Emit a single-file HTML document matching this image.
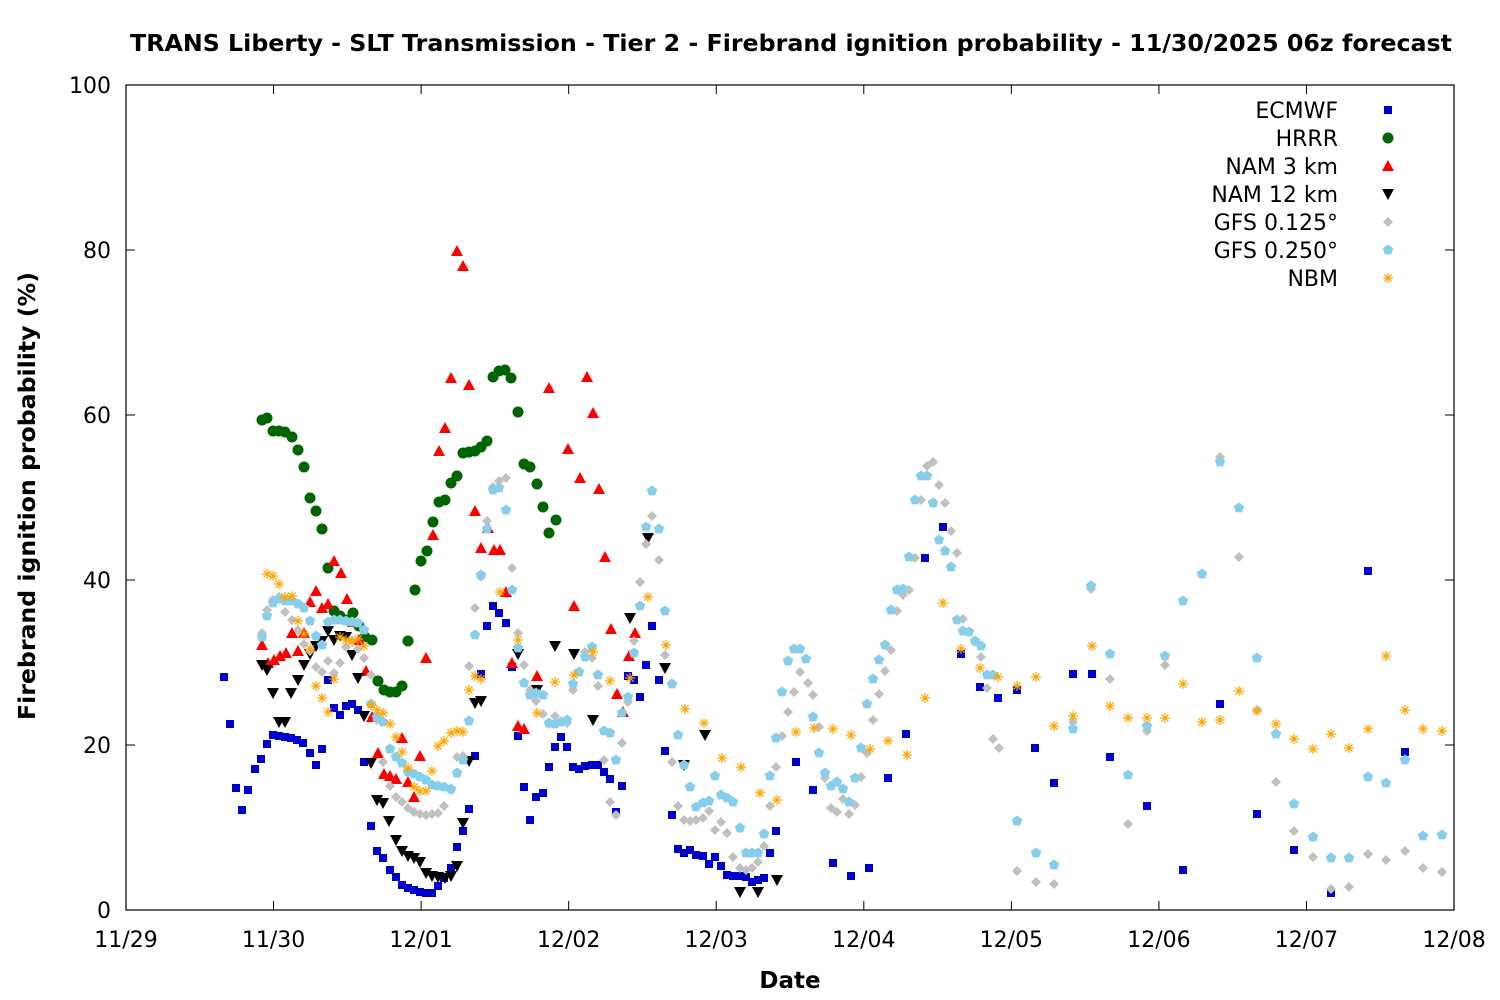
<!DOCTYPE html>
<html><head><meta charset="utf-8"><style>
body{margin:0;background:#fff}
svg{display:block;font-family:"DejaVu Sans","Liberation Sans",sans-serif}
</style></head><body>
<svg id="c" width="1500" height="1000" viewBox="0 0 1500 1000" xmlns="http://www.w3.org/2000/svg">
<rect width="1500" height="1000" fill="#fff"/>
<text x="130" y="51" font-size="23" font-weight="bold" textLength="1322" lengthAdjust="spacingAndGlyphs">TRANS Liberty - SLT Transmission - Tier 2 - Firebrand ignition probability - 11/30/2025 06z forecast</text>
<text x="790" y="988" text-anchor="middle" font-size="23" font-weight="bold">Date</text>
<text transform="translate(35,720) rotate(-90)" font-size="23" font-weight="bold" textLength="448" lengthAdjust="spacingAndGlyphs">Firebrand ignition probability (%)</text>
<g id="ax"></g>
<g id="pts"></g>
<rect x="126" y="85" width="1328" height="825" fill="none" stroke="#000" stroke-width="1.2"/>
</svg>
<script>
const NS="http://www.w3.org/2000/svg";
const ax=document.getElementById('ax'),P=document.getElementById('pts');
function el(t,a,p,txt){const e=document.createElementNS(NS,t);for(const k in a)e.setAttribute(k,a[k]);if(txt!==undefined)e.textContent=txt;(p||P).appendChild(e);return e;}
for(let i=0;i<=5;i++){const y=910-i*165;
 el('line',{x1:126,y1:y,x2:135,y2:y,stroke:'#000'},ax);el('line',{x1:1445,y1:y,x2:1454,y2:y,stroke:'#000'},ax);
 el('text',{x:111,y:y+8,'text-anchor':'end','font-size':22},ax,String(i*20));}
const dl=['11/29','11/30','12/01','12/02','12/03','12/04','12/05','12/06','12/07','12/08'];
for(let i=0;i<=9;i++){const x=126+i*147.56;
 el('line',{x1:x,y1:910,x2:x,y2:901,stroke:'#000'},ax);el('line',{x1:x,y1:85,x2:x,y2:94,stroke:'#000'},ax);
 el('text',{x:x,y:947,'text-anchor':'middle','font-size':22},ax,dl[i]);}
function mk(t,x,y,c){
 if(t=='sq')el('rect',{x:x-4,y:y-4,width:8,height:8,fill:c});
 else if(t=='ci')el('circle',{cx:x,cy:y,r:5.5,fill:c});
 else if(t=='tu')el('polygon',{points:`${x},${y-6} ${x-6},${y+5} ${x+6},${y+5}`,fill:c});
 else if(t=='td')el('polygon',{points:`${x},${y+6} ${x-6},${y-5} ${x+6},${y-5}`,fill:c});
 else if(t=='di')el('polygon',{points:`${x},${y-5} ${x+5},${y} ${x},${y+5} ${x-5},${y}`,fill:c});
 else if(t=='pe'){let p=[];for(let k=0;k<5;k++){const a=-Math.PI/2+k*2*Math.PI/5;p.push((x+5.5*Math.cos(a)).toFixed(1)+','+(y+5.5*Math.sin(a)).toFixed(1));}el('polygon',{points:p.join(' '),fill:c});}
 else if(t=='as'){for(let k=0;k<4;k++){const a=k*Math.PI/4;el('line',{x1:x-5*Math.cos(a),y1:y-5*Math.sin(a),x2:x+5*Math.cos(a),y2:y+5*Math.sin(a),stroke:c,'stroke-width':1.2});}}
}
const S=[
['ECMWF','sq','#0000cc',[224,677,230,724,236,788,242,810,248,790,255,769,261,759,267,744,273,735,279,736,285,737,291,738,297,740,303,743,310,753,316,765,322,749,328,680,334,708,340,715,346,706,352,704,358,710,364,762,371,826,377,851,383,858,390,870,396,877,402,885,408,888,414,890,420,892,426,893,432,893,438,886,444,878,451,868,457,847,463,831,469,809,475,756,481,674,487,626,493,606,499,613,506,623,512,667,518,736,524,787,530,820,536,797,543,793,549,767,555,747,561,737,567,747,573,767,579,769,585,766,592,765,598,765,604,772,610,779,616,812,622,786,628,676,634,680,640,697,646,665,652,626,659,680,665,751,672,815,678,849,684,853,690,850,696,855,703,856,709,864,715,857,721,866,727,875,733,876,740,876,746,877,752,882,758,880,764,878,770,853,776,831,796,762,813,790,833,863,851,876,869,868,888,778,906,734,925,558,943,527,961,654,980,687,998,698,1017,690,1035,748,1054,783,1073,674,1092,674,1110,757,1147,806,1183,870,1220,704,1257,814,1294,850,1331,893,1368,571,1405,752]],
['HRRR','ci','#006400',[262,420,267,418,273,431,279,431,285,432,292,437,298,450,304,467,310,498,316,511,322,529,328,568,334,611,340,616,346,620,353,613,359,626,365,637,372,640,378,681,384,690,390,692,396,692,402,686,408,641,415,590,421,561,427,551,433,522,439,502,445,500,451,483,457,476,463,453,469,452,475,451,481,447,487,441,493,377,499,371,505,370,511,378,518,412,524,464,530,467,537,484,543,507,549,533,556,520]],
['NAM 3 km','tu','#ff0000',[262,645,268,663,274,660,280,656,286,653,292,633,298,651,304,633,310,602,316,591,322,608,328,604,334,561,341,573,347,599,353,622,359,640,366,671,372,717,378,753,384,774,390,776,396,779,402,738,408,782,414,797,420,756,426,658,433,535,439,451,445,428,451,378,457,251,463,266,469,385,475,511,481,548,488,528,494,550,500,550,506,592,512,663,518,726,524,729,537,676,549,388,568,449,574,606,580,478,587,377,593,413,599,489,605,557,611,629,617,694,623,712,629,656,635,633]],
['NAM 12 km','td','#000000',[262,665,267,670,273,693,279,722,285,722,291,693,298,680,304,665,310,654,316,646,322,641,328,631,334,640,340,636,346,637,352,655,358,678,364,716,371,763,377,800,383,803,389,821,396,840,402,851,408,856,414,858,420,862,426,873,432,876,438,877,445,878,451,876,457,866,463,823,469,761,475,703,481,701,518,654,537,690,555,646,574,654,593,720,630,618,648,538,665,668,684,765,705,735,740,892,758,892,777,880]],
['GFS 0.125°','di','#c0c0c0',[262,633,267,610,273,600,279,597,285,612,292,620,298,630,304,644,310,651,316,667,322,672,328,661,334,673,340,663,346,647,352,640,358,649,364,658,371,675,377,720,383,762,390,786,396,797,402,802,408,808,414,812,420,814,426,815,432,814,438,813,444,806,451,790,457,757,463,756,469,666,475,608,481,577,487,521,493,487,499,481,506,478,512,568,518,633,524,665,530,690,536,701,543,714,549,724,555,716,561,722,567,723,573,690,579,672,585,652,592,658,598,686,604,760,610,802,616,815,622,743,628,702,634,641,640,582,646,544,652,516,659,560,665,655,672,762,678,806,684,820,690,821,696,820,703,818,709,811,715,830,721,822,727,833,733,857,740,868,746,870,752,868,758,862,764,846,770,806,776,767,782,736,788,712,794,692,800,672,808,683,813,695,819,727,825,778,831,808,837,812,843,799,849,814,855,805,861,777,867,753,873,720,879,694,885,671,891,650,897,611,903,595,909,590,915,558,921,500,927,466,933,462,939,485,945,503,951,531,957,553,963,619,969,632,975,642,981,657,987,688,993,739,999,748,1017,871,1036,882,1054,884,1073,722,1091,589,1110,679,1128,824,1147,731,1165,665,1183,601,1202,574,1220,457,1239,557,1257,710,1276,782,1294,831,1313,857,1331,889,1349,887,1368,854,1386,860,1405,851,1423,868,1442,872]],
['GFS 0.250°','pe','#87ceeb',[262,637,267,616,273,603,279,599,285,601,292,601,298,604,304,608,310,621,316,636,322,645,328,622,334,620,340,620,346,621,352,622,358,623,364,630,371,704,377,717,383,722,390,749,396,757,402,763,408,772,414,774,420,777,426,780,432,785,438,786,444,787,451,789,457,773,463,760,469,721,475,635,481,575,487,529,493,490,499,488,506,510,512,590,518,648,524,683,530,695,536,693,543,695,549,723,555,724,561,722,567,720,573,684,579,672,585,657,592,647,598,675,604,731,610,733,616,760,622,713,628,697,634,653,640,606,646,527,652,491,659,529,665,611,672,684,678,735,684,765,690,787,696,807,703,803,709,801,715,776,721,795,727,798,733,802,740,828,746,853,752,853,758,853,764,834,770,776,776,738,782,692,788,661,794,649,800,649,806,659,813,717,819,753,825,773,831,786,837,782,843,789,849,802,855,778,861,748,867,704,873,679,879,660,885,645,891,610,897,590,903,589,909,557,915,500,921,476,927,476,933,503,939,540,945,551,951,567,957,620,963,631,969,632,975,641,981,646,987,675,993,675,1017,821,1036,853,1054,865,1073,729,1091,586,1110,654,1128,775,1147,726,1165,656,1183,601,1202,574,1220,462,1239,508,1257,658,1276,734,1294,804,1313,837,1331,858,1349,858,1368,777,1386,783,1405,760,1423,836,1442,835]],
['NBM','as','#ffa500',[267,574,273,576,279,584,285,597,292,596,298,621,304,634,310,649,316,686,322,698,328,712,334,679,340,637,346,640,352,642,358,639,364,646,371,705,377,710,383,713,390,724,396,737,402,752,408,768,414,787,420,791,426,791,432,771,438,746,444,741,451,733,457,731,463,732,469,690,475,676,481,679,500,592,518,640,537,713,555,682,574,675,593,652,610,681,630,678,648,597,666,645,685,709,704,723,722,758,741,767,760,793,777,800,796,732,814,728,833,729,851,735,870,749,888,741,907,755,925,698,943,603,961,649,980,668,998,677,1017,686,1036,677,1054,726,1073,716,1092,646,1110,706,1128,718,1147,718,1165,718,1183,684,1202,722,1220,720,1239,691,1257,711,1276,724,1294,739,1313,749,1331,734,1349,748,1368,729,1386,656,1405,710,1423,729,1442,731]]
];
S.forEach((s,i)=>{const d=s[3];for(let k=0;k<d.length;k+=2)mk(s[1],d[k],d[k+1],s[2]);
 const y=110+i*28;el('text',{x:1338,y:y+8,'text-anchor':'end','font-size':22},P,s[0]);mk(s[1],1388,y,s[2]);});
</script>
</body></html>
